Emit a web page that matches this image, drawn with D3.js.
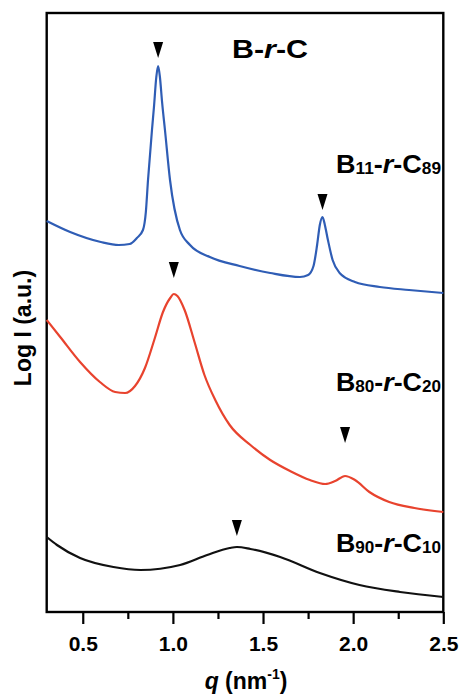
<!DOCTYPE html>
<html>
<head>
<meta charset="utf-8">
<script src="https://cdn.jsdelivr.net/npm/d3@7"></script>
<style>
body { margin: 0; background: #fff; }
text { font-family: "Liberation Sans", Arial, sans-serif; font-weight: bold; }
</style>
</head>
<body>
<script>
// q (nm^-1) samples and log intensity (a.u.) for each copolymer
const qBlue = [0.30,0.43,0.60,0.70,0.76,0.80,0.834,0.85,0.862,0.884,0.895,0.908,0.918,0.928,0.94,0.956,0.984,1.039,1.095,1.205,1.37,1.54,1.705,1.75,1.78,1.80,1.815,1.83,1.843,1.86,1.886,1.925,2.01,2.148,2.31,2.50];
const iBlue = [391,380,370,367,368,374,382,400,432,482,505,535,546,535,510,482,432,382,367,355,346,339,335,337,346,367,387,395,387,372,352,339,330,325,322,319];

const qRed = [0.30,0.375,0.485,0.595,0.68,0.735,0.79,0.845,0.90,0.945,0.985,1.005,1.025,1.065,1.12,1.175,1.235,1.315,1.43,1.54,1.65,1.76,1.845,1.90,1.955,2.01,2.09,2.20,2.34,2.50];
const iRed = [292,275,250,230,220,219,226,244,274,300,314,318,316,302,270,237,212,187,167,152,141,132,128,131,136,132,120,110,104,100];

const qBlack = [0.30,0.357,0.485,0.67,0.82,1.04,1.19,1.315,1.355,1.43,1.595,1.815,2.035,2.26,2.50];
const iBlack = [75,67,54,45,42,47,57,64,65,63,55,39,27,20,15];

// peak markers: q position and intensity of the arrow tip
const markerQ = [0.918, 1.83, 1.005, 1.955, 1.355];
const markerI = [554, 402, 334, 169, 76];

const xTicks = [0.5, 1.0, 1.5, 2.0, 2.5];
const xMinor = [0.75, 1.25, 1.75, 2.25];

const svg = d3.select('body').append('svg')
              .attr('width', 463)
              .attr('height', 695);

const x = d3.scaleLinear().domain([0.3, 2.5]).range([46.7, 443.3]);
const y = d3.scaleLinear().domain([0, 600]).range([612, 12]);

// frame
const x0 = x(0.3), x1 = x(2.5), y0 = y(0), y1 = y(599);
svg.append('rect')
   .attr('x', x0).attr('y', y1)
   .attr('width', x1 - x0).attr('height', y0 - y1)
   .attr('fill', 'none')
   .attr('stroke', '#000')
   .attr('stroke-width', 2.4);

const line = d3.line()
               .x(d => x(d[0]))
               .y(d => y(d[1]))
               .curve(d3.curveMonotoneX);

const series = [
  {q: qBlue, v: iBlue, color: '#2f5db5'},
  {q: qRed, v: iRed, color: '#e8432e'},
  {q: qBlack, v: iBlack, color: '#111'}
];

series.forEach(s => {
  svg.append('path')
     .datum(s.q.map((q, i) => [q, s.v[i]]))
     .attr('d', line)
     .attr('fill', 'none')
     .attr('stroke', s.color)
     .attr('stroke-width', 2.2)
     .attr('stroke-linejoin', 'round');
});

// x axis ticks
const xAxis = d3.axisBottom(x).tickValues(xTicks).tickSize(12).tickFormat(d3.format('.1f'));
const gx = svg.append('g').attr('transform', `translate(0,${y0})`).call(xAxis);
gx.select('.domain').remove();
gx.selectAll('.tick line').attr('stroke-width', 2.2);
gx.selectAll('.tick text').attr('y', 24).attr('font-size', 21)
  .attr('font-family', '"Liberation Sans", Arial, sans-serif').attr('font-weight', 'bold').attr('fill', '#000');

const gxm = svg.append('g').attr('transform', `translate(0,${y0})`)
               .call(d3.axisBottom(x).tickValues(xMinor).tickSize(7).tickFormat(''));
gxm.select('.domain').remove();
gxm.selectAll('.tick line').attr('stroke-width', 2.2);

// axis titles
const xt = svg.append('text').attr('x', 246).attr('y', 689).attr('text-anchor', 'middle').style('font-size', '23px');
xt.append('tspan').style('font-style', 'italic').text('q');
xt.append('tspan').text(' (nm');
xt.append('tspan').attr('dy', -10).style('font-size', '14px').text('-1');
xt.append('tspan').attr('dy', 10).text(')');

svg.append('text')
   .attr('transform', 'translate(31,328) rotate(-90)')
   .attr('text-anchor', 'middle')
   .style('font-size', '23px')
   .text('Log I (a.u.)');

// peak markers
markerQ.forEach((q, i) => {
  const mx = x(q), my = y(markerI[i]);
  svg.append('path')
     .attr('d', `M${mx - 5},${my - 16} L${mx + 5},${my - 16} L${mx},${my} Z`)
     .attr('fill', '#000');
});

// title and sample labels
const title = svg.append('text').attr('x', 232).attr('y', 58)
                 .attr('textLength', 76).attr('lengthAdjust', 'spacingAndGlyphs')
                 .style('font-size', '25px');
title.append('tspan').text('B-');
title.append('tspan').style('font-style', 'italic').text('r');
title.append('tspan').text('-C');

function label(xp, yp, a, b) {
  const t = svg.append('text').attr('x', xp).attr('y', yp)
               .attr('textLength', 105).attr('lengthAdjust', 'spacingAndGlyphs')
               .style('font-size', '25px');
  t.append('tspan').text('B');
  t.append('tspan').attr('dy', 1).style('font-size', '16px').text(a);
  t.append('tspan').attr('dy', -1).text('-');
  t.append('tspan').style('font-style', 'italic').text('r');
  t.append('tspan').text('-C');
  t.append('tspan').attr('dy', 1).style('font-size', '16px').text(b);
}
label(336, 173, '11', '89');
label(336, 391, '80', '20');
label(336, 552, '90', '10');
</script>
</body>
</html>
